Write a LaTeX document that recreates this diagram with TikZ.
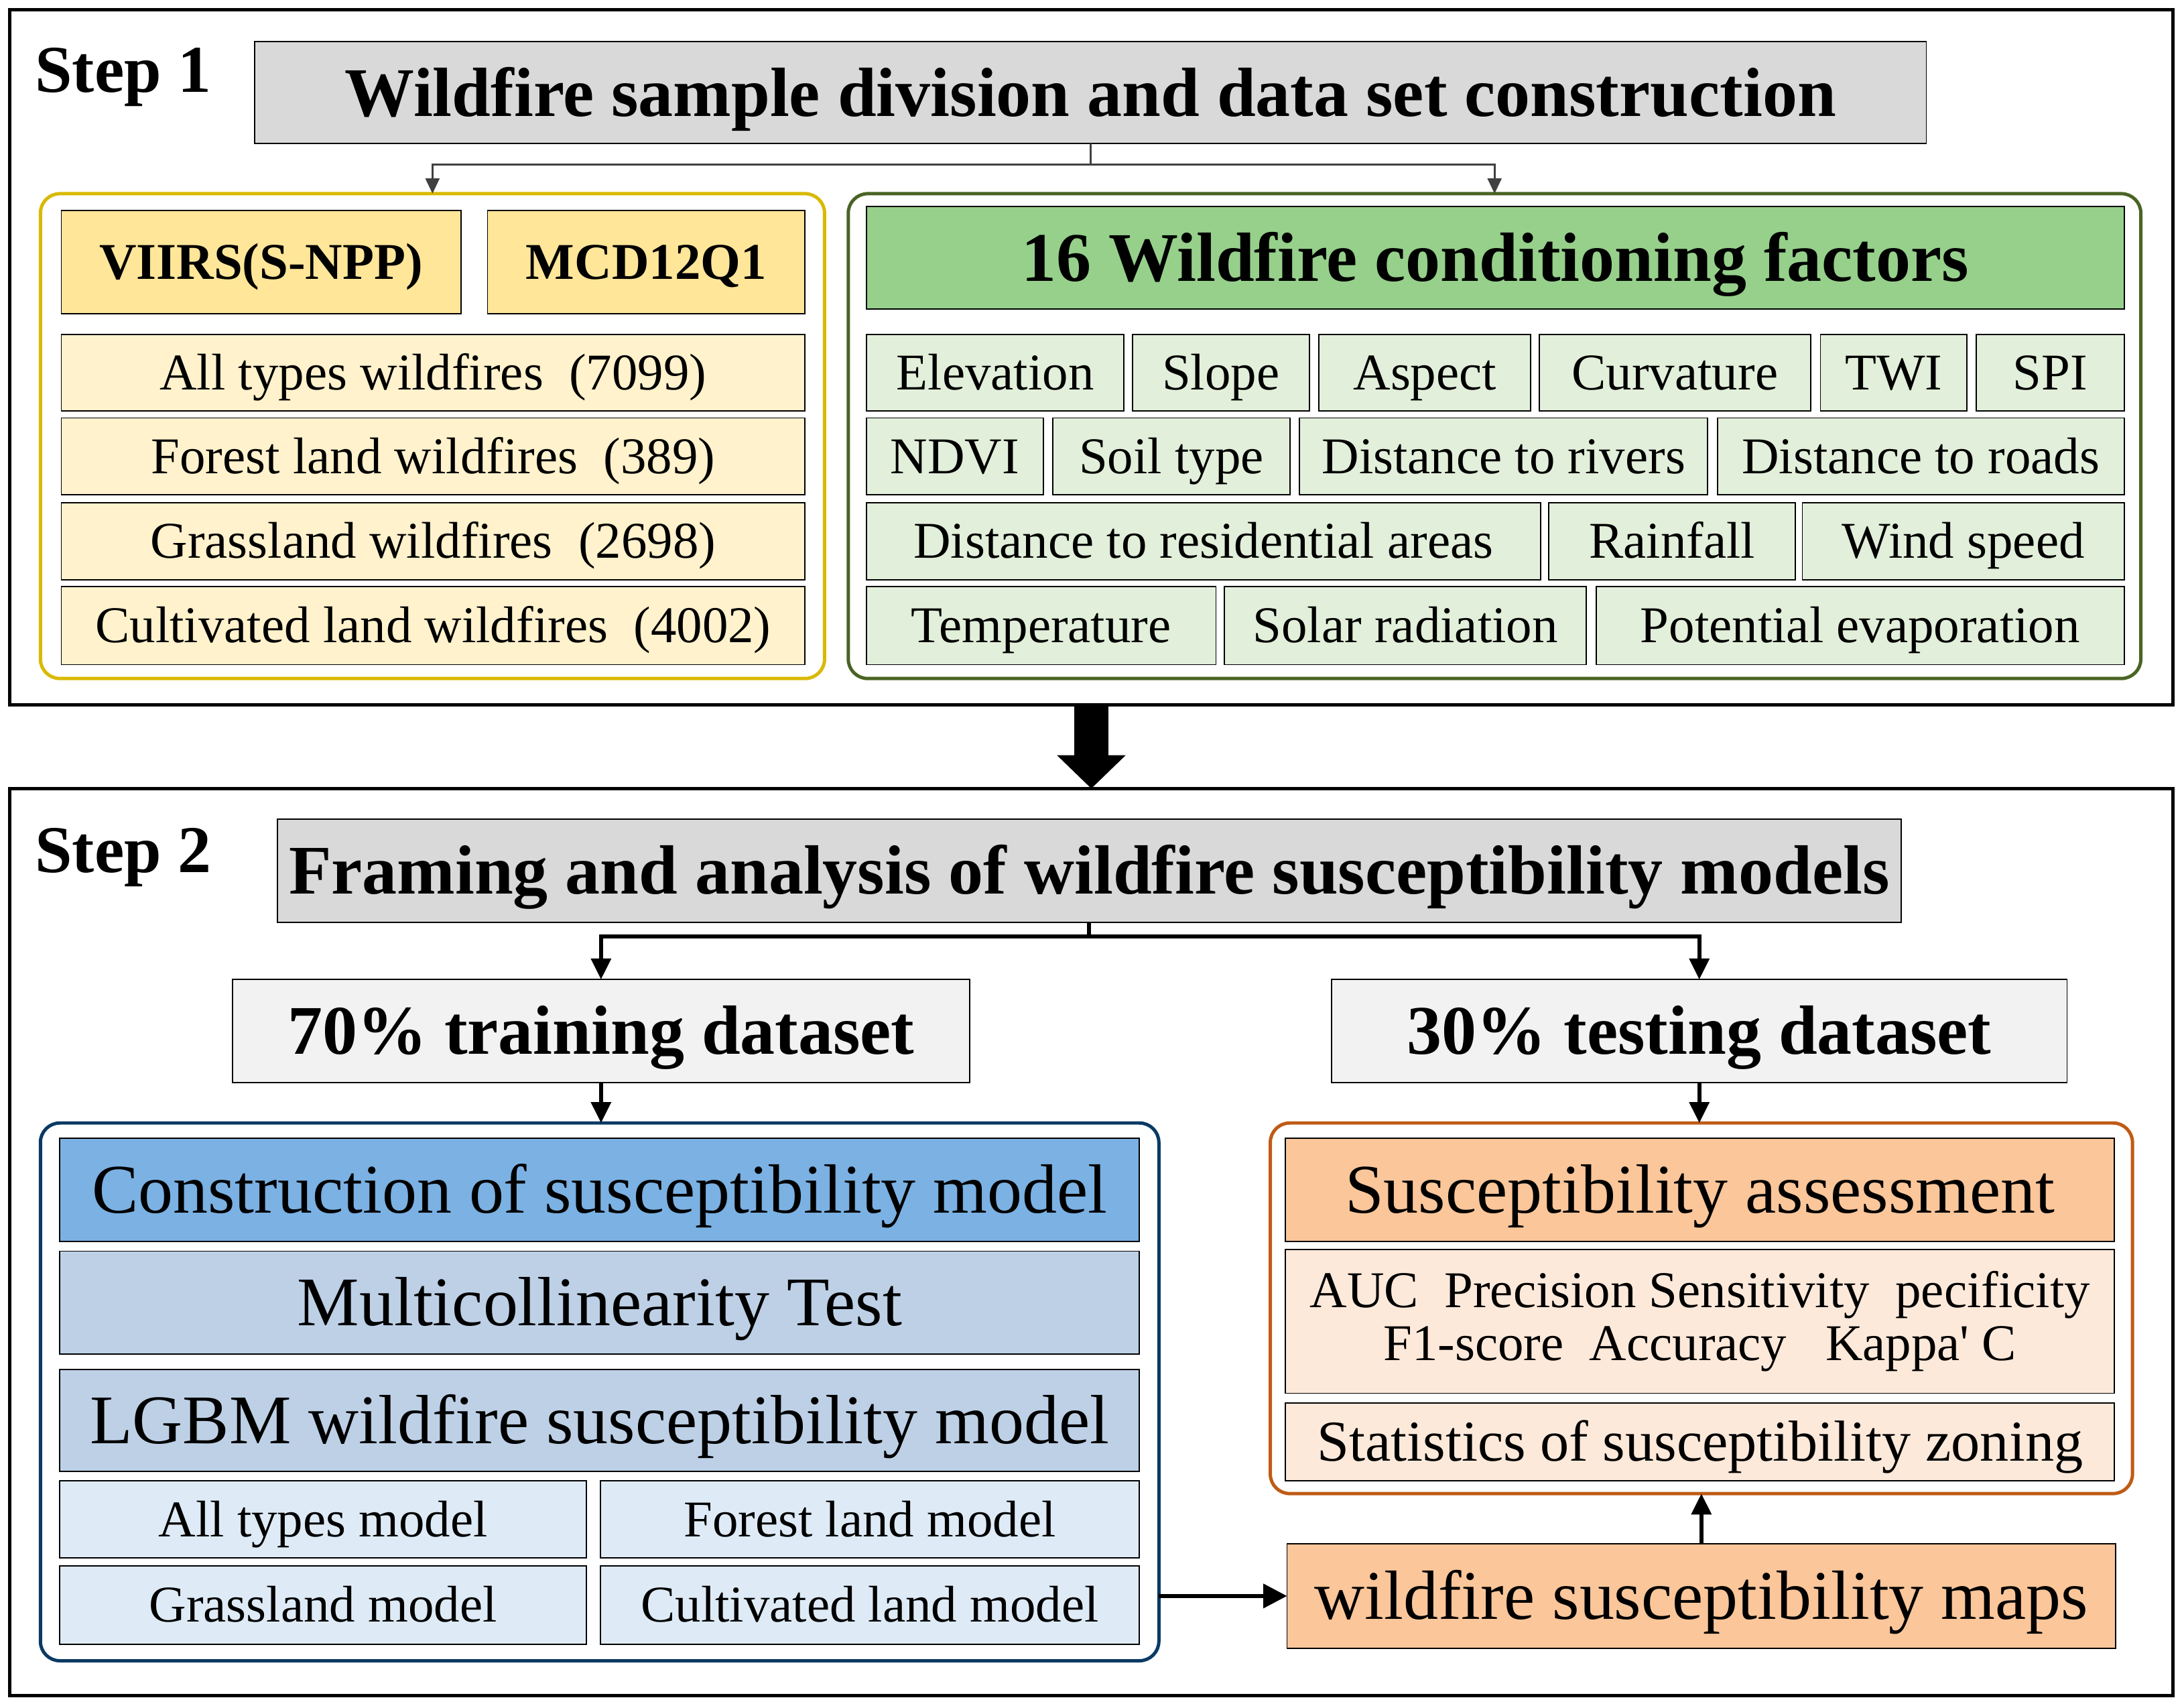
\documentclass[tikz,border=0pt]{standalone}
\usepackage{fontspec}
\setmainfont{Liberation Serif}[Ligatures={TeXOff,CommonOff}]
\usetikzlibrary{arrows.meta}
\definecolor{cgray}{HTML}{D9D9D9}
\definecolor{clgray}{HTML}{F2F2F2}
\definecolor{cyelB}{HTML}{D9B900}
\definecolor{cyel}{HTML}{FFE699}
\definecolor{clyel}{HTML}{FFF2CC}
\definecolor{cgrnB}{HTML}{4A6424}
\definecolor{cgrn}{HTML}{96D08B}
\definecolor{clgrn}{HTML}{E2EFDA}
\definecolor{cbluB}{HTML}{0B3A64}
\definecolor{cblu}{HTML}{7BB1E3}
\definecolor{cmblu}{HTML}{BDD0E6}
\definecolor{clblu}{HTML}{DEEBF6}
\definecolor{corgB}{HTML}{BF5B16}
\definecolor{corg}{HTML}{FBC69A}
\definecolor{clorg}{HTML}{FDE9DA}
\definecolor{cconn}{HTML}{404040}
\newcommand\fR{\fontsize{37}{42}\selectfont}
\newcommand\fB{\fontsize{37}{42}\selectfont\bfseries}
\newcommand\fL{\fontsize{50}{56}\selectfont}
\newcommand\fLB{\fontsize{50}{56}\selectfont\bfseries}
\newcommand\fS{\fontsize{48}{54}\selectfont\bfseries}
\newcommand\fM{\fontsize{41.5}{46}\selectfont}
\newcommand\fT{\fontsize{37}{38}\selectfont}
\newcommand\rb[7]{\node[#1,minimum width={(#4)-(#2)},minimum height={(#5)-(#3)}] (#6) at ({((#2)+(#4))/2},{((#3)+(#5))/2}) {#7};}
\begin{document}
\begin{tikzpicture}[x=1pt,y=-1pt,
  bx/.style={draw, line width=0.9pt, inner sep=0pt, outer sep=0pt},
  rS/.style={font=\fR, text height=24.5pt, text depth=0pt},
  bS/.style={font=\fB, text height=25pt, text depth=0pt},
  rL/.style={font=\fL, text height=33pt, text depth=0pt},
  bL/.style={font=\fLB, text height=33.5pt, text depth=0pt},
  rM/.style={font=\fM, text height=27.5pt, text depth=0pt},
  frame/.style={draw, line width=2.4pt, inner sep=0pt, outer sep=0pt},
  cont/.style={draw, line width=2.4pt, rounded corners=14pt, inner sep=0pt, outer sep=0pt},
  conn1/.style={draw=cconn, line width=1.6pt, -{Triangle[length=11pt,width=10pt]}},
  conn2/.style={draw=black, line width=3pt, -{Triangle[length=15pt,width=14pt]}},
  steplbl/.style={anchor=base west, inner sep=0pt, font=\fS}]
\useasboundingbox (0,0) rectangle (1568,1224);
% ---------- Step 1 ----------
\rb{frame}{7}{7}{1560}{506}{f1}{}
\node[steplbl] (l1) at (25,66) {Step 1};
\rb{bx, bL, fill=cgray}{183}{30}{1383}{103}{t1}{Wildfire sample division and data set construction}
\rb{cont, draw=cyelB}{29}{139}{592}{487}{yc}{}
\rb{cont, draw=cgrnB}{609}{139}{1537}{487}{gc}{}
\draw[conn1, -] (t1.south) -- ++(0,15) coordinate (s1);
\draw[conn1] (s1) -| (yc.north);
\draw[conn1] (s1) -| (gc.north);
\rb{bx, bS, fill=cyel}{44}{151}{331}{225}{viirs}{VIIRS(S-NPP)}
\rb{bx, bS, fill=cyel}{350}{151}{578}{225}{mcd}{MCD12Q1}
\rb{bx, rS, fill=clyel}{44}{240}{578}{295}{w1}{All types wildfires\ \ (7099)}
\rb{bx, rS, fill=clyel}{44}{300}{578}{355}{w2}{Forest land wildfires\ \ (389)}
\rb{bx, rS, fill=clyel}{44}{361}{578}{416}{w3}{Grassland wildfires\ \ (2698)}
\rb{bx, rS, fill=clyel}{44}{421}{578}{477}{w4}{Cultivated land wildfires\ \ (4002)}
\rb{bx, bL, fill=cgrn}{622}{148}{1525}{222}{gt}{16 Wildfire conditioning factors}
\rb{bx, rS, fill=clgrn}{622}{240}{807}{295}{a1}{Elevation}
\rb{bx, rS, fill=clgrn}{813}{240}{940}{295}{a2}{Slope}
\rb{bx, rS, fill=clgrn}{947}{240}{1099}{295}{a3}{Aspect}
\rb{bx, rS, fill=clgrn}{1105}{240}{1300}{295}{a4}{Curvature}
\rb{bx, rS, fill=clgrn}{1307}{240}{1412}{295}{a5}{TWI}
\rb{bx, rS, fill=clgrn}{1419}{240}{1525}{295}{a6}{SPI}
\rb{bx, rS, fill=clgrn}{622}{300}{749}{355}{b1}{NDVI}
\rb{bx, rS, fill=clgrn}{756}{300}{926}{355}{b2}{Soil type}
\rb{bx, rS, fill=clgrn}{933}{300}{1226}{355}{b3}{Distance to rivers}
\rb{bx, rS, fill=clgrn}{1233}{300}{1525}{355}{b4}{Distance to roads}
\rb{bx, rS, fill=clgrn}{622}{361}{1106}{416}{c1}{Distance to residential areas}
\rb{bx, rS, fill=clgrn}{1112}{361}{1289}{416}{c2}{Rainfall}
\rb{bx, rS, fill=clgrn}{1294}{361}{1525}{416}{c3}{Wind speed}
\rb{bx, rS, fill=clgrn}{622}{421}{873}{477}{d1}{Temperature}
\rb{bx, rS, fill=clgrn}{879}{421}{1139}{477}{d2}{Solar radiation}
\rb{bx, rS, fill=clgrn}{1146}{421}{1525}{477}{d3}{Potential evaporation}
% ---------- Step 2 ----------
\rb{frame}{7}{566}{1560}{1217}{f2}{}
\draw[line width=24.5pt, -{Triangle[length=24pt,width=48pt]}] (f1.south) -- (f2.north);
\node[steplbl] (l2) at (25,626) {Step 2};
\rb{bx, bL, fill=cgray}{199}{588}{1365}{662}{t2}{Framing and analysis of wildfire susceptibility models}
\rb{bx, bL, fill=clgray}{167}{703}{696}{777}{tr}{70\% training dataset}
\rb{bx, bL, fill=clgray}{956}{703}{1484}{777}{te}{30\% testing dataset}
\rb{cont, draw=cbluB}{29}{806}{832}{1192}{bc}{}
\rb{cont, draw=corgB}{912}{806}{1531}{1072}{oc}{}
\draw[conn2, -] (t2.south) -- ++(0,10) coordinate (s2);
\draw[conn2] (s2) -| (tr.north);
\draw[conn2] (s2) -| (te.north);
\draw[conn2] (tr.south) -- (tr.south |- bc.north);
\draw[conn2] (te.south) -- (te.south |- oc.north);
\rb{bx, rL, fill=cblu}{43}{817}{818}{891}{m1}{Construction of susceptibility model}
\rb{bx, rL, fill=cmblu}{43}{898}{818}{972}{m2}{Multicollinearity Test}
\rb{bx, rL, fill=cmblu}{43}{983}{818}{1056}{m3}{LGBM wildfire susceptibility model}
\rb{bx, rS, fill=clblu}{43}{1063}{421}{1118}{n1}{All types model}
\rb{bx, rS, fill=clblu}{431}{1063}{818}{1118}{n2}{Forest land model}
\rb{bx, rS, fill=clblu}{43}{1124}{421}{1180}{n3}{Grassland model}
\rb{bx, rS, fill=clblu}{431}{1124}{818}{1180}{n4}{Cultivated land model}
\rb{bx, rL, fill=corg}{923}{817}{1518}{891}{o1}{Susceptibility assessment}
\rb{bx, font=\fT, align=center, fill=clorg}{923}{897}{1518}{1000}{o2}{AUC\ \ Precision Sensitivity\ \ pecificity\\F1-score\ \ Accuracy\ \ \ Kappa' C}
\rb{bx, rM, fill=clorg}{923}{1007}{1518}{1063}{o3}{Statistics of susceptibility zoning}
\rb{bx, rL, fill=corg}{924}{1108}{1519}{1183}{maps}{wildfire susceptibility maps}
\draw[conn2, -{Triangle[length=17pt,width=17pt]}] (maps.west -| bc.east) -- (maps.west);
\draw[conn2] (maps.north) -- (maps.north |- oc.south);
\end{tikzpicture}
\end{document}
